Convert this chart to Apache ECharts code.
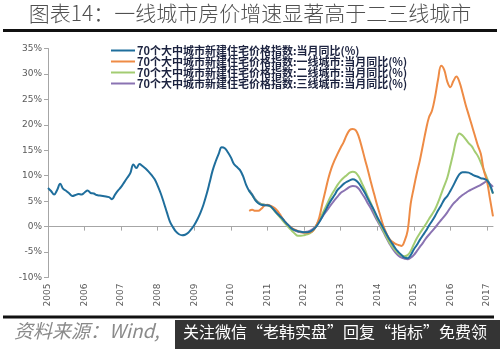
<!DOCTYPE html>
<html>
<head>
<meta charset="utf-8">
<script src="https://cdn.jsdelivr.net/npm/echarts@6/dist/echarts.min.js"></script>
<style>
html,body{margin:0;padding:0;background:#fff;}
#chart{width:500px;height:349px;}
</style>
</head>
<body>
<div id="chart"></div>
<script>
// Monthly categories: 2005-01 .. 2017-03
var startYear = 2005, monthCount = 147;
var categories = [];
for (var i = 0; i < monthCount; i++) {
  var y = startYear + Math.floor(i / 12), mo = (i % 12) + 1;
  categories.push(y + '-' + (mo < 10 ? '0' + mo : mo));
}
var yTicks = [-10, -5, 0, 5, 10, 15, 20, 25, 30, 35];

var seriesNames = [
  '70个大中城市新建住宅价格指数:当月同比(%)',
  '70个大中城市新建住宅价格指数:一线城市:当月同比(%)',
  '70个大中城市新建住宅价格指数:二线城市:当月同比(%)',
  '70个大中城市新建住宅价格指数:三线城市:当月同比(%)'
];

var national = [
  7.6, 7.0, 6.3, 7.2, 8.4, 7.4, 7.0, 6.5, 6.0, 6.2,
  6.4, 6.3, 6.7, 7.1, 6.6, 6.5, 6.2, 6.1, 6.0, 5.9,
  5.8, 5.4, 6.3, 7.1, 7.8, 8.7, 9.6, 10.5, 12.2, 11.5,
  12.3, 11.9, 11.4, 10.8, 10.1, 9.3, 8.0, 6.5, 4.7, 2.8,
  1.0, -0.1, -1.0, -1.5, -1.7, -1.6, -1.2, -0.5, 0.3, 1.4,
  2.7, 4.3, 6.3, 8.6, 11.0, 12.8, 14.3, 15.6, 15.4, 14.6,
  13.6, 12.3, 11.7, 11.1, 9.9, 8.2, 7.0, 6.2, 5.2, 4.6,
  4.3, 4.2, 4.2, 4.0, 3.4, 2.7, 2.1, 1.5, 0.8, 0.2,
  -0.4, -0.7, -0.9, -1.0, -1.1, -1.1, -1.0, -0.6, 0.0, 0.9,
  2.0, 3.1, 4.3, 5.3, 6.2, 7.2, 7.8, 8.4, 8.8, 9.1,
  9.3, 9.1, 8.5, 7.6, 6.6, 5.4, 4.3, 3.2, 1.9, 0.8,
  -0.3, -1.4, -2.5, -3.4, -4.3, -5.0, -5.6, -6.1, -6.2, -5.6,
  -4.5, -3.6, -2.6, -1.7, -0.8, 0.2, 1.1, 2.1, 3.2, 4.2,
  5.3, 6.0, 7.0, 8.1, 9.3, 10.3, 10.7, 10.7, 10.6, 10.3,
  10.0, 9.8, 9.5, 9.4, 9.1, 8.2, 6.5
];

// tier series start 2010-07 (index 66)
var tierStart = 66;
var tier1 = [
  3.1, 3.3, 3.1, 3.1, 3.5, 4.1, 4.3, 4.1, 3.8, 3.3,
  2.5, 1.6, 0.8, 0.2, -0.3, -0.6, -0.9, -1.1, -1.2, -1.2,
  -1.1, -0.8, 0.2, 1.8, 4.5, 7.0, 9.5, 11.5, 13.0, 14.3,
  15.5, 16.6, 18.0, 19.0, 19.2, 18.9, 17.6, 15.5, 13.2, 11.0,
  8.6, 6.4, 4.2, 2.2, 0.2, -1.3, -2.4, -3.0, -3.4, -3.6,
  -3.8, -2.8, -0.8, 4.5, 7.6, 10.5, 13.0, 16.0, 19.0, 21.5,
  22.8, 25.5, 29.0, 31.6, 30.8, 28.5, 27.4, 28.6, 29.5, 28.4,
  26.3, 24.0, 22.0, 20.0, 18.0, 16.0, 14.3, 11.0, 9.0, 5.5,
  2.0
];
var tier2 = [
  7.0, 6.2, 5.3, 4.7, 4.4, 4.3, 4.2, 3.9, 3.3, 2.6,
  1.9, 1.2, 0.5, -0.2, -0.8, -1.4, -1.8, -1.8, -1.7, -1.5,
  -1.3, -0.8, 0.2, 1.3, 2.5, 3.7, 5.0, 6.2, 7.2, 8.2,
  9.0, 9.6, 10.1, 10.6, 10.8, 10.6, 9.8, 8.5, 7.2, 5.8,
  4.5, 3.0, 1.6, 0.4, -0.8, -2.0, -3.1, -4.0, -4.7, -5.3,
  -5.7, -5.8, -5.6, -4.8, -3.5, -2.3, -1.3, -0.4, 0.5, 1.5,
  2.4, 3.4, 4.8, 6.4, 8.0, 9.6, 12.0, 14.5, 17.2, 18.3,
  17.9, 17.2, 16.4, 15.8, 14.8, 13.9, 12.6, 11.1, 9.6, 8.0,
  6.5
];
var tier3 = [
  7.2, 6.3, 5.4, 4.8, 4.4, 4.3, 4.2, 4.0, 3.4, 2.7,
  2.0, 1.4, 0.7, 0.1, -0.4, -0.8, -1.0, -1.1, -1.1, -1.0,
  -0.8, -0.4, 0.2, 1.0, 1.9, 2.8, 3.6, 4.4, 5.2, 5.9,
  6.6, 7.0, 7.4, 7.8, 8.0, 7.9, 7.4, 6.5, 5.6, 4.5,
  3.5, 2.3, 1.2, 0.1, -1.0, -2.2, -3.3, -4.3, -5.1, -5.7,
  -6.1, -6.3, -6.4, -6.1, -5.6, -4.8, -4.0, -3.2, -2.3, -1.6,
  -0.9, -0.2, 0.6, 1.3, 2.0, 2.8, 3.7, 4.5, 5.1, 5.7,
  6.2, 6.6, 7.0, 7.3, 7.6, 7.9, 8.2, 8.6, 8.9, 8.4,
  7.8
];

function pad(arr) {
  var out = [];
  for (var i = 0; i < tierStart; i++) out.push(null);
  return out.concat(arr);
}

var colors = ['#1f6e9c', '#ee8b45', '#a3cc72', '#8a73b2'];
var seriesData = [national, pad(tier1), pad(tier2), pad(tier3)];

var chart = echarts.init(document.getElementById('chart'));
var series = seriesNames.map(function (n, k) {
  return {
    name: n, type: 'line', data: seriesData[k], smooth: 0.4,
    showSymbol: false, symbol: 'none', connectNulls: false,
    lineStyle: { width: 2, color: colors[k] }, itemStyle: { color: colors[k] },
    z: k === 0 ? 5 : 4 - k
  };
});

chart.setOption({
  animation: false,
  backgroundColor: '#fff',
  grid: { left: 48, right: 7, top: 48.5, bottom: 71.5, containLabel: false },
  legend: {
    orient: 'vertical', left: 106, top: 40, itemGap: 0,
    itemWidth: 24, itemHeight: 2, icon: 'rect',
    textStyle: { fontSize: 11, fontWeight: 'bold', color: '#1c2340', fontFamily: 'Noto Sans CJK SC', padding: [0, 0, 0, -3] },
    data: seriesNames
  },
  xAxis: {
    type: 'category', data: categories, boundaryGap: false,
    axisLine: { lineStyle: { color: '#a6a6a6', width: 1 } },
    axisTick: { show: true, length: 4, lineStyle: { color: '#a6a6a6' },
      interval: function (i) { return i % 12 === 0; } },
    axisLabel: {
      rotate: 90, fontSize: 9, color: '#595959', margin: 6, fontFamily: 'DejaVu Sans',
      interval: function (i) { return i % 12 === 0; },
      formatter: function (v) { return v.slice(0, 4); }
    },
    splitLine: { show: false }
  },
  yAxis: {
    type: 'value', min: yTicks[0], max: yTicks[yTicks.length - 1], interval: 5,
    axisLine: { show: true, lineStyle: { color: '#a6a6a6', width: 1 } },
    axisTick: { show: true, length: 4, lineStyle: { color: '#a6a6a6' } },
    axisLabel: { fontSize: 9, color: '#595959', margin: 6, fontFamily: 'DejaVu Sans',
      formatter: function (v) { return v + '%'; } },
    splitLine: { show: false }
  },
  graphic: [
    { type: 'text', left: 'center', top: 3,
      style: { text: '图表14：一线城市房价增速显著高于二三线城市', fontSize: 21, fontWeight: 300,
        fontFamily: 'Noto Sans CJK SC', fill: '#505050' } },
    { type: 'rect', shape: { x: 3, y: 29, width: 494, height: 3 }, style: { fill: '#111' } },
    { type: 'rect', shape: { x: 3, y: 315.5, width: 491, height: 3 }, style: { fill: '#111' } },
    { type: 'text', left: 14, top: 321,
      style: { text: '资料来源：Wind,', fontSize: 19, fontStyle: 'italic',
        fontFamily: 'Noto Sans CJK SC', fill: '#8a8a8a' } },
    { type: 'rect', shape: { x: 175, y: 320, width: 325, height: 29 }, style: { fill: '#343434' } },
    { type: 'text', left: 183, top: 324,
      style: { text: '关注微信“老韩实盘”回复“指标”免费领', fontSize: 16,
        fontFamily: 'Noto Sans CJK SC', fill: '#ffffff' } }
  ],
  series: series
});
</script>
</body>
</html>
